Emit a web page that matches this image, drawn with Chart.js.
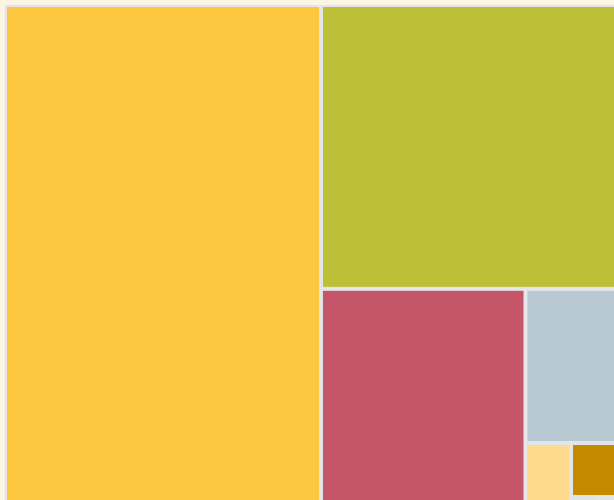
<!DOCTYPE html>
<html><head><meta charset="utf-8">
<script src="https://cdn.jsdelivr.net/npm/chart.js@4/dist/chart.umd.min.js"></script>
<style>
html,body{margin:0;padding:0;background:#fdf5e4;overflow:hidden;width:614px;height:500px}
#wrap{width:631px;height:528px}
</style></head>
<body><div id="wrap"><canvas id="c" width="631" height="528"></canvas></div>
<script>
// ---- data ----
const categories = ['A', 'B', 'C', 'D', 'E', 'F', 'G', 'H'];
const values = [163.7, 86.6, 47.9, 15.5, 3.64, 2.97, 0.72, 0.71];
const colors = ['#fec740', '#bdbf36', '#c5566a', '#b9c9d4', '#ffd98c', '#c48a00', '#dfe7d6', '#dce3ea'];

const DOMAIN_W = 621, DOMAIN_H = 518;

function sum(a){return a.reduce((s,v)=>s+v,0);}
function worst(row, side){
  const s = sum(row), mx = Math.max(...row), mn = Math.min(...row);
  return Math.max(side*side*mx/(s*s), (s*s)/(side*side*mn));
}
function squarify(vals, x0, y0, w, h){
  const total = sum(vals);
  const areas = vals.map(v => v * w * h / total);
  const out = [];
  let i = 0;
  while (i < areas.length){
    const side = Math.min(w, h);
    let row = [areas[i]], j = i + 1;
    while (j < areas.length){
      const cand = row.concat(areas[j]);
      if (worst(cand, side) > worst(row, side)) break;
      row = cand; j++;
    }
    const s = sum(row);
    if (w >= h){
      const cw = s / h; let yy = y0;
      row.forEach((a,k)=>{ const hh = a / cw; out[i+k] = {x:x0, y:yy, w:cw, h:hh}; yy += hh; });
      x0 += cw; w -= cw;
    } else {
      const rh = s / w; let xx = x0;
      row.forEach((a,k)=>{ const ww = a / rh; out[i+k] = {x:xx, y:y0, w:ww, h:rh}; xx += ww; });
      y0 += rh; h -= rh;
    }
    i = j;
  }
  return out;
}

const rects = squarify(values, 0, 0, DOMAIN_W, DOMAIN_H);

const treemapPlugin = {
  id: 'treemapCells',
  beforeDatasetsDraw(chart){
    const ctx = chart.ctx, xs = chart.scales.x, ys = chart.scales.y;
    ctx.save();
    rects.forEach((r, i) => {
      const x1 = xs.getPixelForValue(r.x), x2 = xs.getPixelForValue(r.x + r.w);
      const y1 = ys.getPixelForValue(r.y), y2 = ys.getPixelForValue(r.y + r.h);
      ctx.fillStyle = '#e2e5e8';
      ctx.fillRect(x1, y1, x2 - x1, y2 - y1);
      ctx.fillStyle = colors[i];
      ctx.fillRect(x1 + 2, y1 + 2, x2 - x1 - 4, y2 - y1 - 4);
    });
    ctx.restore();
  }
};

new Chart(document.getElementById('c'), {
  type: 'scatter',
  data: {
    datasets: [{
      label: 'Treemap',
      data: rects.map((r, i) => ({x: r.x + r.w/2, y: r.y + r.h/2, label: categories[i], v: values[i]})),
      pointRadius: 0,
      pointHoverRadius: 0
    }]
  },
  options: {
    responsive: false,
    animation: false,
    layout: {padding: 5},
    plugins: {legend: {display: false}, tooltip: {enabled: false}},
    scales: {
      x: {type: 'linear', min: 0, max: DOMAIN_W, display: false},
      y: {type: 'linear', min: 0, max: DOMAIN_H, reverse: true, display: false}
    }
  },
  plugins: [treemapPlugin]
});
</script>
</body></html>
